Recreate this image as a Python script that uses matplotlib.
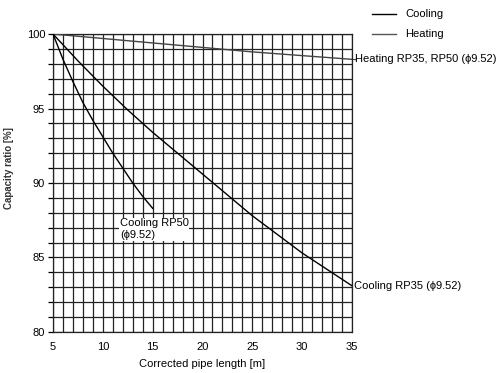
import matplotlib
matplotlib.use("Agg")
import matplotlib.pyplot as plt
import numpy as np

plt.rcParams['font.family'] = ['Liberation Sans', 'DejaVu Sans']

# Data
heat_x = [5, 10, 15, 20, 25, 30, 35]
heat_y = [100, 99.7, 99.4, 99.1, 98.8, 98.55, 98.3]

rp35_x = [5, 7.5, 10, 12.5, 15, 20, 25, 30, 35]
rp35_y = [100, 98.2, 96.5, 94.9, 93.4, 90.6, 87.8, 85.3, 83.1]

rp50_x = [5, 6, 7, 8, 9, 10, 11, 12, 13, 14, 15]
rp50_y = [100, 98.3, 96.8, 95.4, 94.2, 93.1, 92.0, 91.0, 90.0, 89.1, 88.3]

xticks = [5, 10, 15, 20, 25, 30, 35]
yticks = [80, 85, 90, 95, 100]

fs = 8.0

fig = plt.figure(figsize=(5.02, 3.73), dpi=100)
ax = fig.add_axes([0.1056, 0.110, 0.5956, 0.7988])
ax.set_xlim(5, 35)
ax.set_ylim(80, 100)

# grid every 1 unit
for xv in range(5, 36):
    ax.axvline(xv, color='#222222', lw=0.9, zorder=1)
for yv in range(80, 101):
    ax.axhline(yv, color='#222222', lw=0.9, zorder=1)

ax.plot(heat_x, heat_y, color='#444444', lw=1.0, zorder=3)
ax.plot(rp35_x, rp35_y, color='black', lw=1.0, zorder=3)
ax.plot(rp50_x, rp50_y, color='black', lw=1.0, zorder=3)

ax.set_xticks(xticks)
ax.set_yticks(yticks)
ax.set_yticks(range(80, 101), minor=True)
ax.tick_params(axis='x', length=0, pad=7, labelsize=fs)
ax.tick_params(axis='y', which='both', direction='out', length=3.6, width=0.9, pad=2, labelsize=fs)
for s in ax.spines.values():
    s.set_linewidth(0.9)
    s.set_color('#222222')

ax.set_xlabel('Corrected pipe length [m]', fontsize=fs)
ax.xaxis.set_label_coords(0.5, -0.09)
ax.set_ylabel('Capacity ratio [%]', fontsize=7, fontweight='bold', color='#333333')
ax.yaxis.set_label_coords(-0.13, 0.55)

# annotations
ax.plot([35, 35.4], [98.3, 98.3], color='#444444', lw=0.8, clip_on=False)
ax.text(35.3, 98.3, 'Heating RP35, RP50 (ϕ9.52)', fontsize=fs, va='center', ha='left')
ax.text(35.2, 83.1, 'Cooling RP35 (ϕ9.52)', fontsize=fs, va='center', ha='left')
ax.text(11.7, 86.9, 'Cooling RP50\n(ϕ9.52)', fontsize=fs, va='center', ha='left',
        linespacing=1.2, zorder=4,
        bbox=dict(facecolor='white', edgecolor='none', pad=0.5))

# legend
fig.add_artist(plt.Line2D([372/502, 396/502], [1-14/373, 1-14/373], color='black', lw=1.0))
fig.add_artist(plt.Line2D([372/502, 396/502], [1-34/373, 1-34/373], color='#555555', lw=1.0))
fig.text(405/502, 1-14/373, 'Cooling', fontsize=fs, va='center')
fig.text(405/502, 1-34/373, 'Heating', fontsize=fs, va='center')

fig.savefig('out.png', dpi=100)
